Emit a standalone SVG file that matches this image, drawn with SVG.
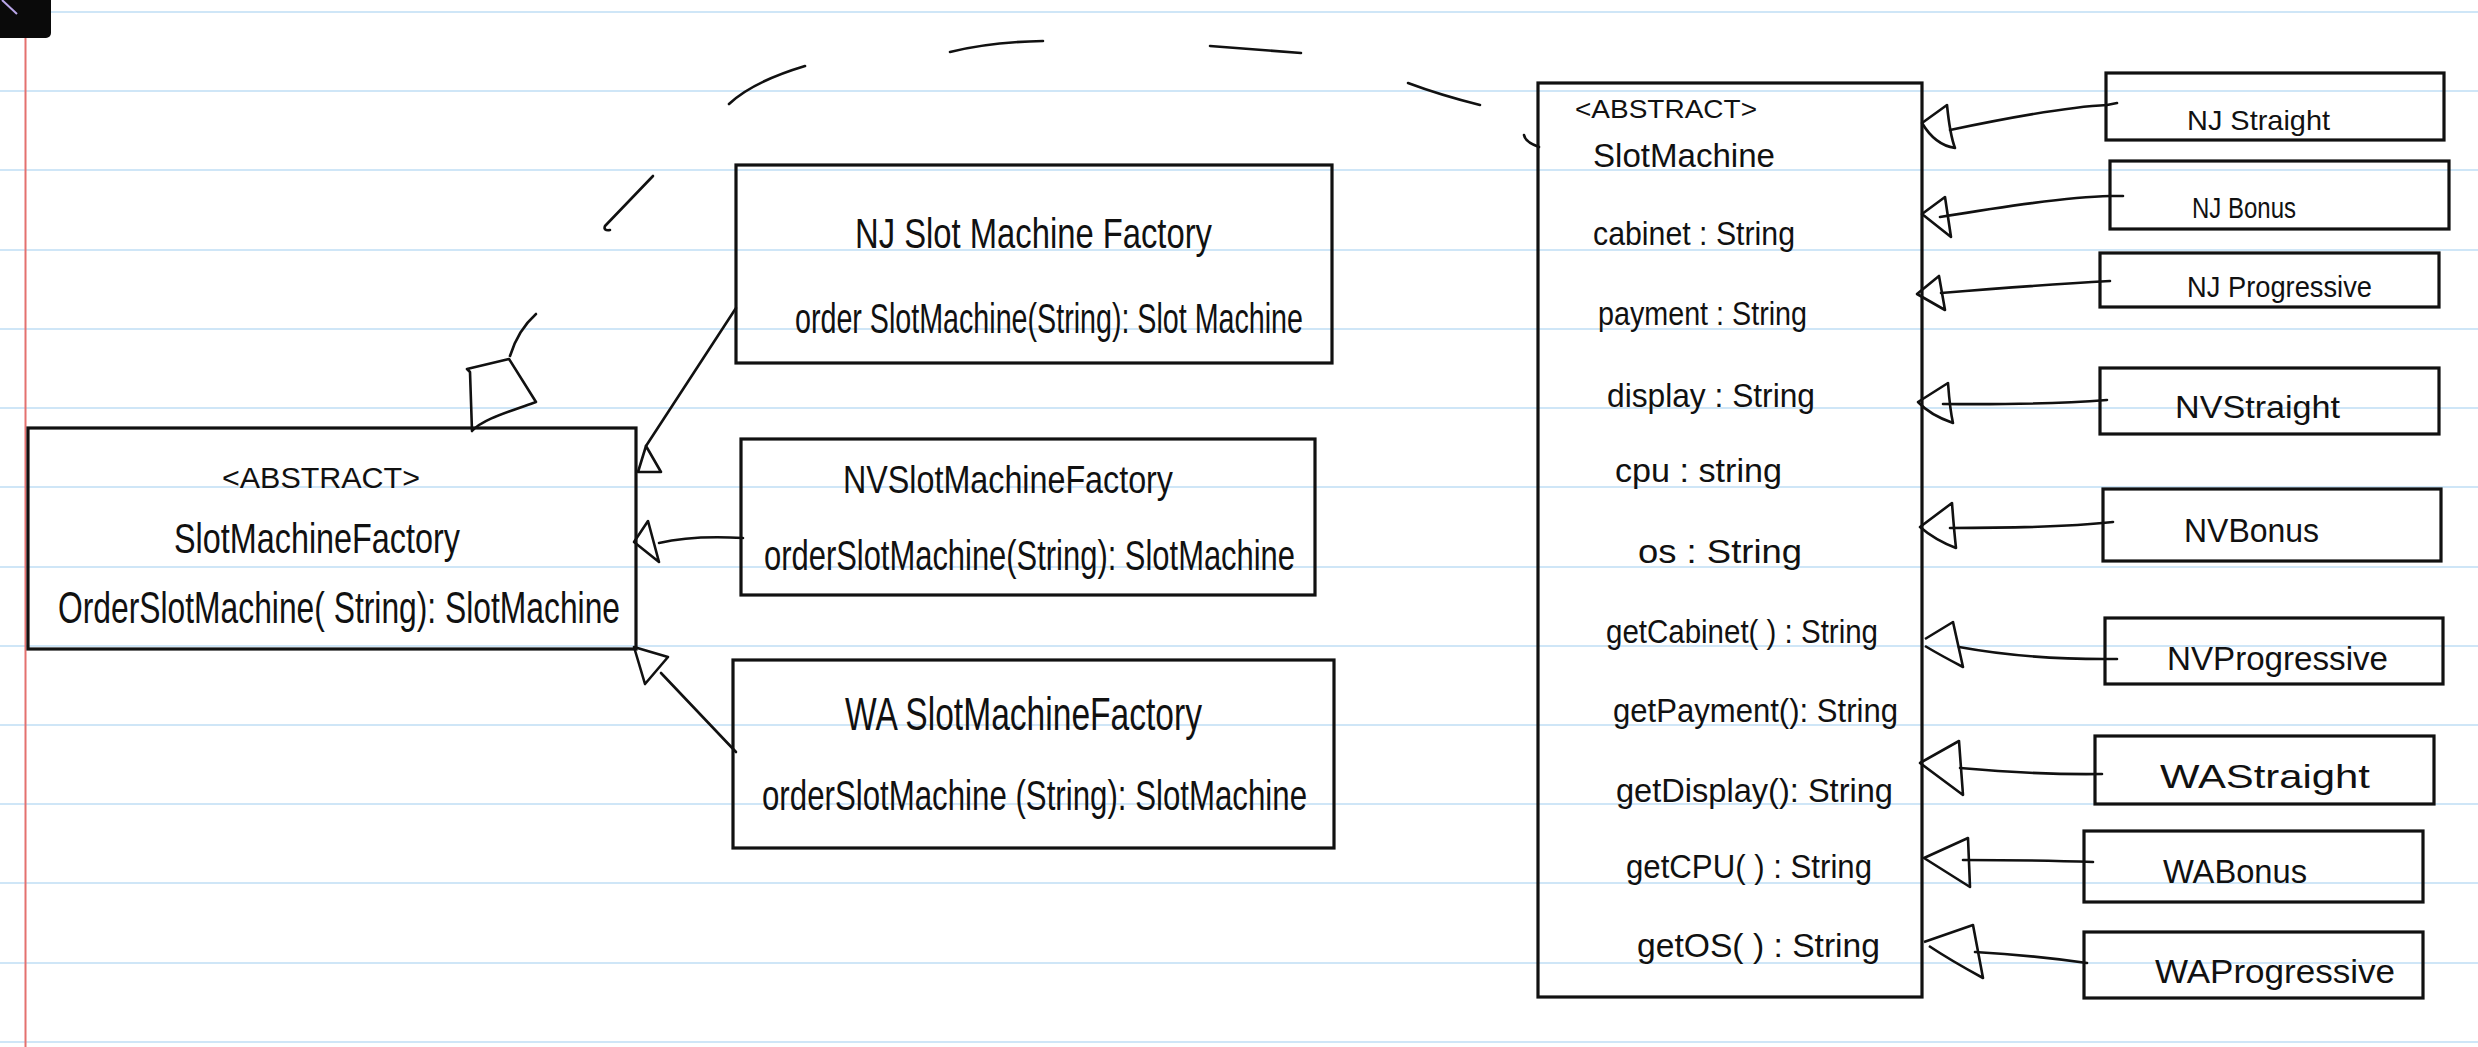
<svg xmlns="http://www.w3.org/2000/svg" width="2478" height="1047" viewBox="0 0 2478 1047">
<style>
.rule{stroke:#cfe6f7;stroke-width:2}
.margin{stroke:#e4716f;stroke-width:2}
.box{fill:none;stroke:#111;stroke-width:3.2}
.ln{fill:none;stroke:#111;stroke-width:2.6;stroke-linecap:round;stroke-linejoin:round}
.tri{fill:none;stroke:#111;stroke-width:2.6;stroke-linejoin:round}
.t{font-family:"Liberation Sans",Arial,sans-serif;fill:#111}
</style>
<rect x="0" y="0" width="2478" height="1047" fill="#ffffff"/>
<g id="paper">
<line class="rule" x1="0" y1="12" x2="2478" y2="12"/>
<line class="rule" x1="0" y1="91" x2="2478" y2="91"/>
<line class="rule" x1="0" y1="170" x2="2478" y2="170"/>
<line class="rule" x1="0" y1="250" x2="2478" y2="250"/>
<line class="rule" x1="0" y1="329" x2="2478" y2="329"/>
<line class="rule" x1="0" y1="408" x2="2478" y2="408"/>
<line class="rule" x1="0" y1="487" x2="2478" y2="487"/>
<line class="rule" x1="0" y1="567" x2="2478" y2="567"/>
<line class="rule" x1="0" y1="646" x2="2478" y2="646"/>
<line class="rule" x1="0" y1="725" x2="2478" y2="725"/>
<line class="rule" x1="0" y1="804" x2="2478" y2="804"/>
<line class="rule" x1="0" y1="883" x2="2478" y2="883"/>
<line class="rule" x1="0" y1="963" x2="2478" y2="963"/>
<line class="rule" x1="0" y1="1042" x2="2478" y2="1042"/>
<line class="margin" x1="25.5" y1="0" x2="25.5" y2="1047"/>
<rect x="-12" y="-12" width="63" height="50" rx="5" fill="#0a0a0a"/>
<line x1="2" y1="0" x2="17" y2="14" stroke="#b9a6e8" stroke-width="2"/>
</g>
<g id="connectors">
<path class="ln" d="M736,308 L646,446"/>
<polygon class="tri" points="646,446 638,472 661,472"/>
<path class="ln" d="M743,538 C705,536 680,538 659,543"/>
<polygon class="tri" points="634,542 648,521 659,562"/>
<path class="ln" d="M736,752 L661,673"/>
<polygon class="tri" points="634,647 668,657 645,684"/>
<path class="tri" d="M467,369 L509,359 L536,402 C502,414 482,420 472,431 L470,372 Z"/>
<path class="ln" d="M510,356 Q518,330 536,314"/>
<path class="ln" d="M610,230 Q603,231 605,226 L653,176"/>
<path class="ln" d="M729,104 Q752,82 805,66"/>
<path class="ln" d="M950,52 Q990,42 1043,41"/>
<path class="ln" d="M1210,46 L1301,53"/>
<path class="ln" d="M1408,83 Q1440,95 1480,105"/>
<path class="ln" d="M1524,135 Q1525,142 1539,147"/>
<path class="ln" d="M2117,103 L2107,105 Q2060,107 1950,130"/>
<path class="tri" d="M1922,123 L1947,105 Q1950,135 1955,148 Q1935,145 1922,123 Z"/>
<path class="ln" d="M2123,196 L2110,196 Q2060,197 1940,217"/>
<path class="tri" d="M1922,214 L1945,197 L1951,237 Z"/>
<path class="ln" d="M2110,281 Q2040,285 1941,293"/>
<path class="tri" d="M1917,294 L1939,276 L1945,310 Z"/>
<path class="ln" d="M2107,400 Q2040,405 1943,404"/>
<path class="tri" d="M1918,402 L1948,383 Q1950,410 1953,423 Q1930,415 1918,402 Z"/>
<path class="ln" d="M2113,522 Q2060,528 1950,528"/>
<path class="tri" d="M1920,527 L1952,503 Q1954,530 1956,548 Q1935,540 1920,527 Z"/>
<path class="ln" d="M2117,659 Q2030,660 1959,647"/>
<path class="tri" d="M1925,639 L1953,622 L1963,667 Q1940,655 1925,646"/>
<path class="ln" d="M2102,774 Q2040,775 1960,768"/>
<path class="tri" d="M1920,763 L1959,741 L1963,795 Z"/>
<path class="ln" d="M2093,862 Q2040,860 1963,860"/>
<path class="tri" d="M1924,858 L1968,838 L1970,887 Z"/>
<path class="ln" d="M2087,963 Q2030,955 1975,952"/>
<path class="tri" d="M1924,942 L1973,925 L1983,978 Q1950,960 1929,946"/>
</g>
<g id="SlotMachineFactory">
<rect class="box" x="28" y="428" width="608" height="221"/>
<text class="t" x="222" y="488" font-size="30" textLength="198" lengthAdjust="spacingAndGlyphs">&lt;ABSTRACT&gt;</text>
<text class="t" x="174" y="553" font-size="42" textLength="286" lengthAdjust="spacingAndGlyphs">SlotMachineFactory</text>
<text class="t" x="58" y="623" font-size="44" textLength="562" lengthAdjust="spacingAndGlyphs">OrderSlotMachine( String): SlotMachine</text>
</g>
<g id="NJSlotMachineFactory">
<rect class="box" x="736" y="165" width="596" height="198"/>
<text class="t" x="855" y="248" font-size="42" textLength="357" lengthAdjust="spacingAndGlyphs">NJ Slot Machine Factory</text>
<text class="t" x="795" y="333" font-size="42" textLength="508" lengthAdjust="spacingAndGlyphs">order SlotMachine(String): Slot Machine</text>
</g>
<g id="NVSlotMachineFactory">
<rect class="box" x="741" y="439" width="574" height="156"/>
<text class="t" x="843" y="493" font-size="38" textLength="330" lengthAdjust="spacingAndGlyphs">NVSlotMachineFactory</text>
<text class="t" x="764" y="570" font-size="42" textLength="531" lengthAdjust="spacingAndGlyphs">orderSlotMachine(String): SlotMachine</text>
</g>
<g id="WASlotMachineFactory">
<rect class="box" x="733" y="660" width="601" height="188"/>
<text class="t" x="845" y="730" font-size="46" textLength="357" lengthAdjust="spacingAndGlyphs">WA SlotMachineFactory</text>
<text class="t" x="762" y="810" font-size="42" textLength="545" lengthAdjust="spacingAndGlyphs">orderSlotMachine (String): SlotMachine</text>
</g>
<g id="SlotMachine">
<rect class="box" x="1538" y="83" width="384" height="914"/>
<text class="t" x="1575" y="118" font-size="26" textLength="182" lengthAdjust="spacingAndGlyphs">&lt;ABSTRACT&gt;</text>
<text class="t" x="1593" y="167" font-size="34" textLength="182" lengthAdjust="spacingAndGlyphs">SlotMachine</text>
<text class="t" x="1593" y="245" font-size="33" textLength="202" lengthAdjust="spacingAndGlyphs">cabinet : String</text>
<text class="t" x="1598" y="325" font-size="33" textLength="209" lengthAdjust="spacingAndGlyphs">payment : String</text>
<text class="t" x="1607" y="407" font-size="33" textLength="208" lengthAdjust="spacingAndGlyphs">display : String</text>
<text class="t" x="1615" y="482" font-size="33" textLength="167" lengthAdjust="spacingAndGlyphs">cpu : string</text>
<text class="t" x="1638" y="563" font-size="33" textLength="164" lengthAdjust="spacingAndGlyphs">os :  String</text>
<text class="t" x="1606" y="643" font-size="33" textLength="272" lengthAdjust="spacingAndGlyphs">getCabinet( ) : String</text>
<text class="t" x="1613" y="722" font-size="33" textLength="285" lengthAdjust="spacingAndGlyphs">getPayment(): String</text>
<text class="t" x="1616" y="802" font-size="33" textLength="277" lengthAdjust="spacingAndGlyphs">getDisplay(): String</text>
<text class="t" x="1626" y="878" font-size="33" textLength="246" lengthAdjust="spacingAndGlyphs">getCPU( ) : String</text>
<text class="t" x="1637" y="957" font-size="33" textLength="243" lengthAdjust="spacingAndGlyphs">getOS( ) : String</text>
</g>
<g id="NJStraight">
<rect class="box" x="2106" y="73" width="338" height="67"/>
<text class="t" x="2187" y="130" font-size="28" textLength="143" lengthAdjust="spacingAndGlyphs">NJ Straight</text>
</g>
<g id="NJBonus">
<rect class="box" x="2110" y="161" width="339" height="68"/>
<text class="t" x="2192" y="218" font-size="30" textLength="104" lengthAdjust="spacingAndGlyphs">NJ Bonus</text>
</g>
<g id="NJProgressive">
<rect class="box" x="2100" y="253" width="339" height="54"/>
<text class="t" x="2187" y="297" font-size="29" textLength="185" lengthAdjust="spacingAndGlyphs">NJ Progressive</text>
</g>
<g id="NVStraight">
<rect class="box" x="2100" y="368" width="339" height="66"/>
<text class="t" x="2175" y="418" font-size="31" textLength="165" lengthAdjust="spacingAndGlyphs">NVStraight</text>
</g>
<g id="NVBonus">
<rect class="box" x="2103" y="489" width="338" height="72"/>
<text class="t" x="2184" y="542" font-size="33" textLength="135" lengthAdjust="spacingAndGlyphs">NVBonus</text>
</g>
<g id="NVProgressive">
<rect class="box" x="2105" y="618" width="338" height="66"/>
<text class="t" x="2167" y="670" font-size="33" textLength="221" lengthAdjust="spacingAndGlyphs">NVProgressive</text>
</g>
<g id="WAStraight">
<rect class="box" x="2095" y="736" width="339" height="68"/>
<text class="t" x="2160" y="788" font-size="34" textLength="210" lengthAdjust="spacingAndGlyphs">WAStraight</text>
</g>
<g id="WABonus">
<rect class="box" x="2084" y="831" width="339" height="71"/>
<text class="t" x="2163" y="883" font-size="34" textLength="144" lengthAdjust="spacingAndGlyphs">WABonus</text>
</g>
<g id="WAProgressive">
<rect class="box" x="2084" y="932" width="339" height="66"/>
<text class="t" x="2155" y="983" font-size="34" textLength="240" lengthAdjust="spacingAndGlyphs">WAProgressive</text>
</g>
</svg>
